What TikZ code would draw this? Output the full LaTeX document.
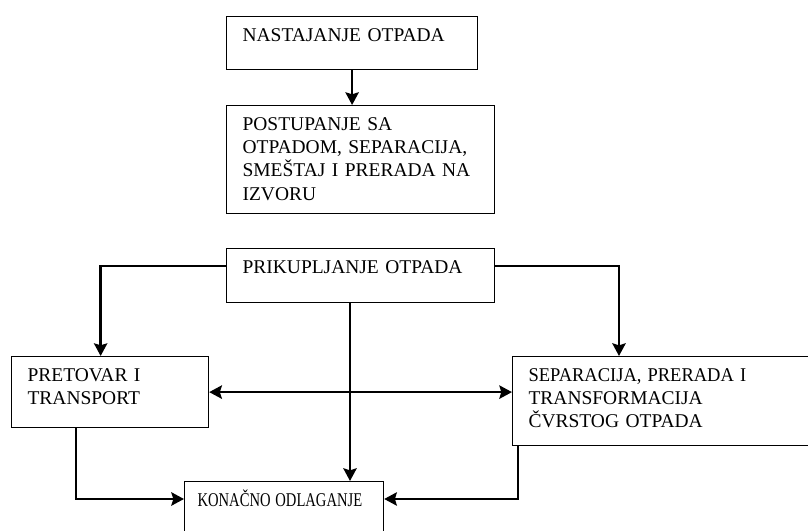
\documentclass[tikz,border=0pt]{standalone}
\usepackage{graphicx}
\usepackage{fontspec}
\setmainfont{Liberation Serif}
\usetikzlibrary{arrows.meta,positioning}

\begin{document}
\begin{tikzpicture}[x=0.75pt, y=-0.75pt,
  box/.style={draw, line width=0.9pt, anchor=north west, align=left, inner xsep=12pt, inner ysep=6.5pt, text height=12.2pt, font=\fontsize{14.6}{17.4}\selectfont},
  link/.style={line width=1.8pt, -{Stealth[length=9.5pt, width=10pt, inset=1.5pt]}},
  both/.style={line width=1.8pt, {Stealth[length=9.5pt, width=10pt, inset=1.5pt]}-{Stealth[length=9.5pt, width=10pt, inset=1.5pt]}}]
\useasboundingbox (0,0) rectangle (808,531);
\clip (0,0) rectangle (808,531);
\node[box, text width=164.25pt, text depth=14.55pt] (nast) at (226,16) {NASTAJANJE OTPADA};
\node[box, text width=177pt, text depth=55.8pt] (post) at (226,105) {POSTUPANJE SA\\OTPADOM, SEPARACIJA,\\SMEŠTAJ I PRERADA NA\\IZVORU};
\node[box, text width=177pt, text depth=15.3pt] (prik) at (226,248) {PRIKUPLJANJE OTPADA};
\node[box, text width=123.75pt, text depth=28.05pt] (pret) at (11,356) {PRETOVAR I\\TRANSPORT};
\node[box, text width=203.25pt, text depth=41.55pt] (sepa) at (512,356) {\scalebox{0.95}[1]{SEPARACIJA, PRERADA I}\\TRANSFORMACIJA\\ČVRSTOG OTPADA};
\node[box, inner xsep=9.75pt, text width=129.75pt, text depth=27.3pt] (kona) at (184,481) {\scalebox{0.75}[1]{KONAČNO ODLAGANJE}};
\coordinate (prik-s) at ([xshift=93pt]prik.south west);
\draw[link] (nast.south) -- (nast.south |- post.north);
\draw[link] ([yshift=-13.5pt]prik.north west) -| ([xshift=-7.1pt]pret.north);
\draw[link] ([yshift=-13.5pt]prik.north east) -| ([xshift=80.25pt]sepa.north west);
\draw[both] (pret.east) -- (pret.east -| sepa.west);
\draw[link] (prik-s) -- (prik-s |- kona.north);
\draw[link] ([xshift=48.75pt]pret.south west) |- ([yshift=-13.5pt]kona.north west);
\draw[link] ([xshift=4.5pt]sepa.south west) |- ([yshift=-13.5pt]kona.north east);
\end{tikzpicture}
\end{document}
